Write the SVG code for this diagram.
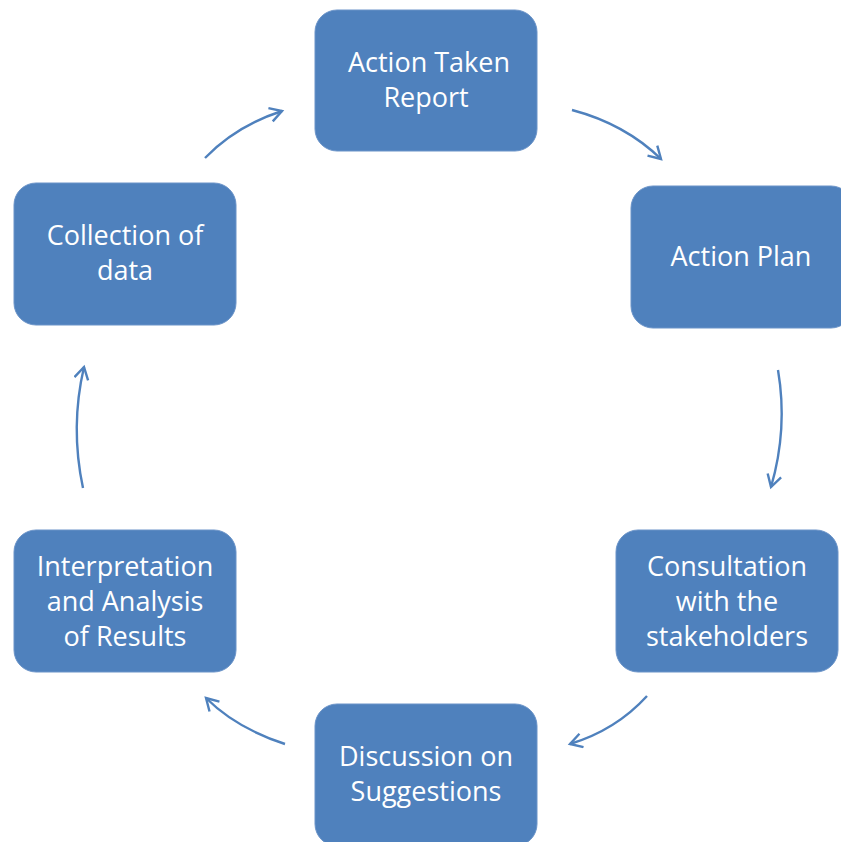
<svg xmlns="http://www.w3.org/2000/svg" width="841" height="842" viewBox="0 0 841 842">
<style>
.box{fill:#4F81BD;stroke:#6A93C8;stroke-width:1}
.t{fill:#FFFFFF;font-family:"Open Sans","Noto Sans","Liberation Sans",sans-serif;font-size:27px;text-anchor:middle}
.c{fill:none;stroke:#4F81BD;stroke-width:2.4}
</style>
<defs>
<marker id="ah" markerWidth="20" markerHeight="20" refX="14" refY="8" orient="auto" markerUnits="userSpaceOnUse">
<path d="M2,1 L14,8 L2,15" fill="none" stroke="#4F81BD" stroke-width="2.4"/>
</marker>
</defs>
<rect width="841" height="842" fill="#FFFFFF"/>
<g id="connectors">
<path class="c" d="M205,158 Q236,126 282,111" marker-end="url(#ah)"/>
<path class="c" d="M572,110 Q625,124 661,159" marker-end="url(#ah)"/>
<path class="c" d="M778,370 Q788,429 771,487" marker-end="url(#ah)"/>
<path class="c" d="M647,696 Q616,730 570,744" marker-end="url(#ah)"/>
<path class="c" d="M285,744 Q236,728 206,698" marker-end="url(#ah)"/>
<path class="c" d="M83,488 Q70,427 84,367" marker-end="url(#ah)"/>
</g>
<g id="n1">
<rect class="box" x="315" y="10" width="222" height="141" rx="22"/>
<text class="t" x="429" y="72">Action Taken</text>
<text class="t" x="426" y="107">Report</text>
</g>
<g id="n2">
<rect class="box" x="631" y="186" width="222" height="142" rx="22"/>
<text class="t" x="741" y="266">Action Plan</text>
</g>
<g id="n3">
<rect class="box" x="616" y="530" width="222" height="142" rx="22"/>
<text class="t" x="727" y="576">Consultation</text>
<text class="t" x="727" y="611">with the</text>
<text class="t" x="727" y="646">stakeholders</text>
</g>
<g id="n4">
<rect class="box" x="315" y="704" width="222" height="142" rx="22"/>
<text class="t" x="426" y="766">Discussion on</text>
<text class="t" x="426" y="801">Suggestions</text>
</g>
<g id="n5">
<rect class="box" x="14" y="530" width="222" height="142" rx="22"/>
<text class="t" x="125" y="576">Interpretation</text>
<text class="t" x="125" y="611">and Analysis</text>
<text class="t" x="125" y="646">of Results</text>
</g>
<g id="n6">
<rect class="box" x="14" y="183" width="222" height="142" rx="22"/>
<text class="t" x="125" y="245">Collection of</text>
<text class="t" x="125" y="280">data</text>
</g>
</svg>
